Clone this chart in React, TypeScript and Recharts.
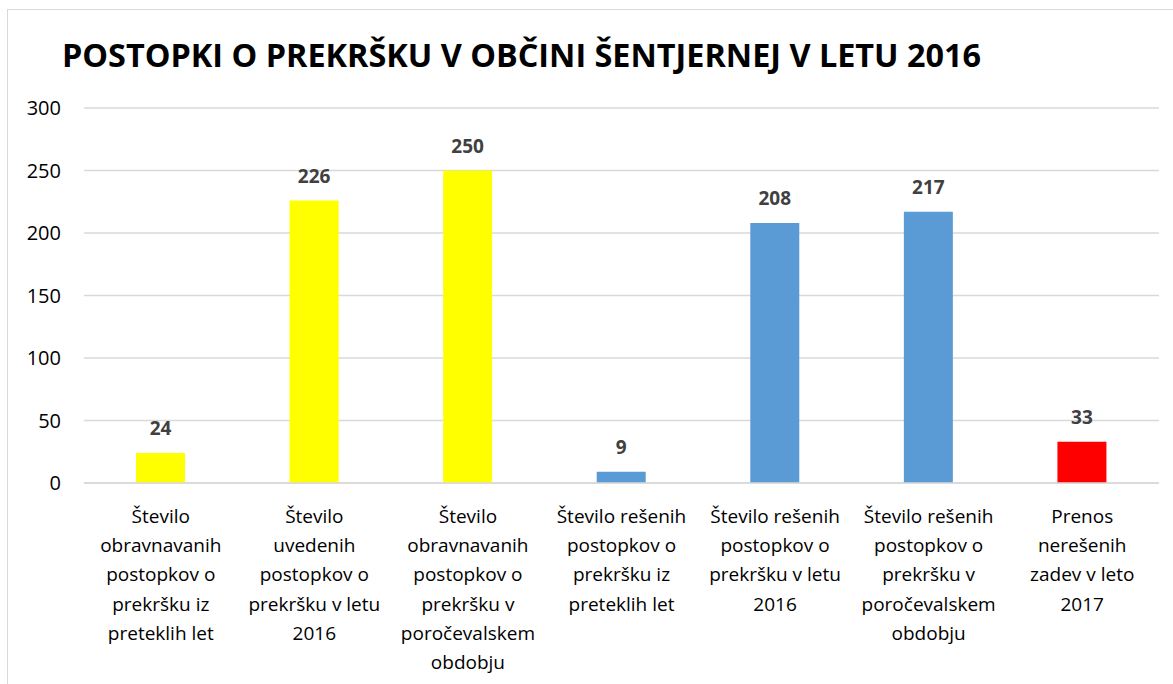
import { BarChart, Bar, XAxis, YAxis, CartesianGrid, Cell, LabelList } from 'recharts';

const categories = [
  'Število\nobravnavanih\npostopkov o\nprekršku iz\npreteklih let',
  'Število\nuvedenih\npostopkov o\nprekršku v letu\n2016',
  'Število\nobravnavanih\npostopkov o\nprekršku v\nporočevalskem\nobdobju',
  'Število rešenih\npostopkov o\nprekršku iz\npreteklih let',
  'Število rešenih\npostopkov o\nprekršku v letu\n2016',
  'Število rešenih\npostopkov o\nprekršku v\nporočevalskem\nobdobju',
  'Prenos\nnerešenih\nzadev v leto\n2017'
];
const values = [24, 226, 250, 9, 208, 217, 33];
const barColors = ['#FFFF00', '#FFFF00', '#FFFF00', '#5B9BD5', '#5B9BD5', '#5B9BD5', '#FF0000'];
const yTicks = [0, 50, 100, 150, 200, 250, 300];
const title = 'POSTOPKI O PREKRŠKU V OBČINI ŠENTJERNEJ V LETU 2016';

const data = categories.map((name, i) => ({ name, value: values[i] }));

const FONT = '"Open Sans", sans-serif';

const CategoryTick = (props: any) => {
  const { x, y, payload } = props;
  const lines = String(payload.value).split('\n');
  return (
    <text x={x} y={y} textAnchor="middle" fill="#000" fontSize={19} fontFamily={FONT}>
      {lines.map((line, i) => (
        <tspan key={i} x={x} dy={i === 0 ? 38 : 29.2}>
          {line}
        </tspan>
      ))}
    </text>
  );
};

export default function App() {
  return (
    <div style={{ position: 'absolute', left: 0, top: 0, width: 1173, height: 684, overflow: 'hidden', background: '#fff' }}>
      <div
        style={{
          position: 'absolute',
          left: 7,
          top: 9,
          width: 1200,
          height: 700,
          borderLeft: '1.5px solid #d9d9d9',
          borderTop: '1.5px solid #d9d9d9'
        }}
      />
      <BarChart
        width={1173}
        height={684}
        data={data}
        margin={{ top: 108, right: 14, bottom: 11, left: 0 }}
        style={{ position: 'absolute', left: 0, top: 0 }}
      >
        <text x={62} y={67} fontSize={32.4} fontWeight="bold" fontFamily={FONT} fill="#000">
          {title}
        </text>
        <CartesianGrid vertical={false} stroke="#d9d9d9" strokeWidth={1.5} />
        <YAxis
          width={84}
          domain={[0, 300]}
          ticks={yTicks}
          axisLine={false}
          tickLine={false}
          tickSize={0}
          tickMargin={23}
          tick={{ fill: '#000', fontSize: 20, fontFamily: FONT }}
        />
        <XAxis
          dataKey="name"
          height={190}
          interval={0}
          axisLine={{ stroke: '#d9d9d9', strokeWidth: 1.5 }}
          tickLine={false}
          tickSize={0}
          tick={<CategoryTick />}
        />
        <Bar dataKey="value" barSize={49} isAnimationActive={false}>
          {data.map((d, i) => (
            <Cell key={d.name} fill={barColors[i]} />
          ))}
          <LabelList
            dataKey="value"
            position="top"
            offset={18}
            fill="#404040"
            fontSize={19}
            fontWeight="bold"
            fontFamily={FONT}
          />
        </Bar>
      </BarChart>
    </div>
  );
}
